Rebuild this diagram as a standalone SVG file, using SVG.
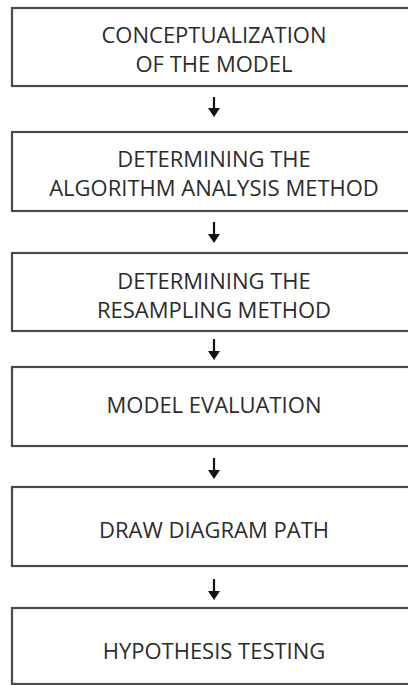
<svg xmlns="http://www.w3.org/2000/svg" width="408" height="685" viewBox="0 0 408 685">
<defs>
<style>
.box{fill:#fff;stroke:#4a4a4a;stroke-width:2.2}
.lb{font-family:"Open Sans","Noto Sans",sans-serif;font-size:22px;fill:#2b2b2b;text-anchor:middle}
.ar{stroke:#111;stroke-width:2.2;fill:none}
.hd{fill:#111}
</style>
</defs>
<rect width="408" height="685" fill="#fff"/>
<g id="n1"><rect class="box" x="12" y="8" width="420" height="78"/><text class="lb" x="214" y="43">CONCEPTUALIZATION</text><text class="lb" x="214" y="72">OF THE MODEL</text></g>
<g id="n2"><rect class="box" x="12" y="132" width="420" height="79"/><text class="lb" x="214" y="167">DETERMINING THE</text><text class="lb" x="214" y="196">ALGORITHM ANALYSIS METHOD</text></g>
<g id="n3"><rect class="box" x="12" y="253" width="420" height="78"/><text class="lb" x="214" y="289">DETERMINING THE</text><text class="lb" x="214" y="318">RESAMPLING METHOD</text></g>
<g id="n4"><rect class="box" x="12" y="367" width="420" height="79"/><text class="lb" x="214" y="413">MODEL EVALUATION</text></g>
<g id="n5"><rect class="box" x="12" y="487" width="420" height="79"/><text class="lb" x="214" y="538">DRAW DIAGRAM PATH</text></g>
<g id="n6"><rect class="box" x="12" y="608" width="420" height="76"/><text class="lb" x="214" y="659">HYPOTHESIS TESTING</text></g>
<g id="connectors">
<path class="ar" d="M214,97 V109"/><path class="hd" d="M208,108 L220,108 L214,117 Z"/>
<path class="ar" d="M214,222 V235"/><path class="hd" d="M208,234 L220,234 L214,243 Z"/>
<path class="ar" d="M214,339 V352"/><path class="hd" d="M208,351 L220,351 L214,360 Z"/>
<path class="ar" d="M214,458 V471"/><path class="hd" d="M208,470 L220,470 L214,479 Z"/>
<path class="ar" d="M214,579 V592"/><path class="hd" d="M208,591 L220,591 L214,600 Z"/>
</g>
</svg>
